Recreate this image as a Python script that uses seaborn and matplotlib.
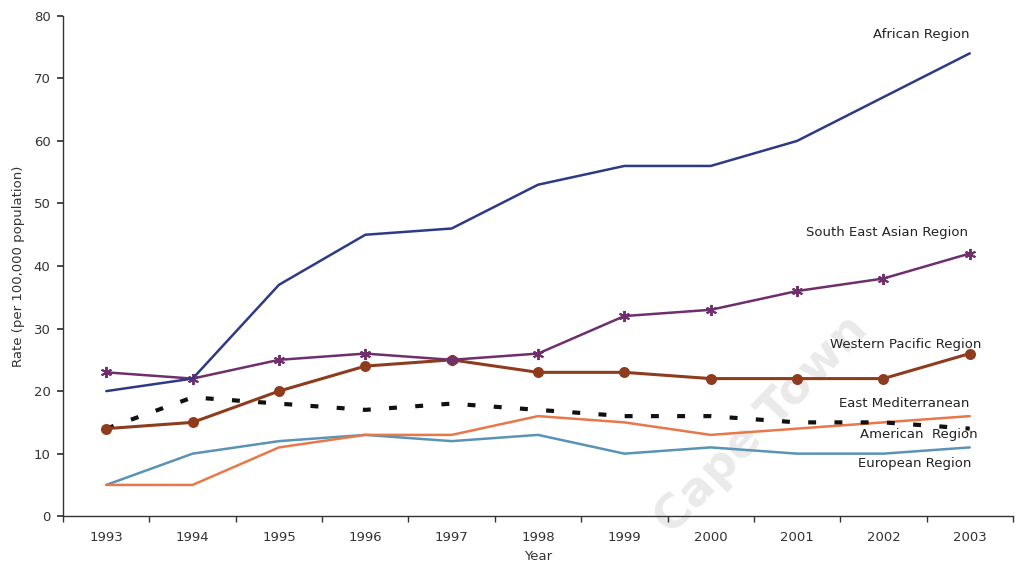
import matplotlib
matplotlib.use("Agg")
import matplotlib.pyplot as plt
import seaborn as sns
import pandas as pd

years = list(range(1993, 2004))

african = [20, 22, 37, 45, 46, 53, 56, 56, 60, 67, 74]
south_east_asian = [23, 22, 25, 26, 25, 26, 32, 33, 36, 38, 42]
western_pacific = [14, 15, 20, 24, 25, 23, 23, 22, 22, 22, 26]
east_mediterranean = [14, 19, 18, 17, 18, 17, 16, 16, 15, 15, 14]
american = [5, 5, 11, 13, 13, 16, 15, 13, 14, 15, 16]
european = [5, 10, 12, 13, 12, 13, 10, 11, 10, 10, 11]

region_names = ["African Region", "South East Asian Region", "Western Pacific Region",
                "East Mediterranean", "American  Region", "European Region"]
y_ticks = [0, 10, 20, 30, 40, 50, 60, 70, 80]

sns.set_theme(style="white")
plt.rcParams["font.family"] = ["DejaVu Sans"]

frames = []
for name, vals in zip(region_names, [african, south_east_asian, western_pacific,
                                     east_mediterranean, american, european]):
    frames.append(pd.DataFrame({"Year": years, "Rate": vals, "Region": name}))
df = pd.concat(frames, ignore_index=True)

styles = {
    "African Region": dict(color="#2E3A86", lw=1.8, marker=None, ms=0, ls="-"),
    "South East Asian Region": dict(color="#6E2F6C", lw=1.8, marker=(6, 2, 0), ms=8, ls="-"),
    "Western Pacific Region": dict(color="#8E3B1E", lw=2.2, marker="o", ms=6.5, ls="-"),
    "East Mediterranean": dict(color="#111111", lw=3.0, marker=None, ms=0, ls=(0, (1.9, 4.4))),
    "American  Region": dict(color="#E8784A", lw=1.8, marker=None, ms=0, ls="-"),
    "European Region": dict(color="#5A93B3", lw=1.8, marker=None, ms=0, ls="-"),
}

fig = plt.figure(figsize=(10.18, 5.66), dpi=100)
ax = fig.add_axes([0.062, 0.088, 0.933, 0.884])
ax.set_facecolor("none")

# faint diagonal watermark behind the chart
fig.text(0.748, 0.25, "Cape Town", fontsize=34, color="#EAEAEA", rotation=46,
         ha="center", va="center", rotation_mode="anchor", fontweight="bold", zorder=-1)

for name in ["European Region", "American  Region", "East Mediterranean",
             "Western Pacific Region", "South East Asian Region", "African Region"]:
    st = styles[name]
    sub = df[df["Region"] == name]
    sns.lineplot(data=sub, x="Year", y="Rate", ax=ax, color=st["color"],
                 linewidth=st["lw"], linestyle=st["ls"], marker=st["marker"],
                 markersize=st["ms"], markeredgewidth=1.4,
                 markeredgecolor=st["color"], legend=False)

ax.set_xlim(1992.5, 2003.5)
ax.set_ylim(0, 80)
ax.set_yticks(y_ticks)
ax.set_xticks(years)
ax.set_xticks([y + 0.5 for y in range(1992, 2004)], minor=True)
ax.tick_params(axis="x", which="major", length=0, pad=11, labelsize=9.5, labelcolor="#333333")
ax.tick_params(axis="x", which="minor", length=4, direction="out", color="#333333", bottom=True)
ax.tick_params(axis="y", length=4, direction="out", color="#333333", left=True,
               labelsize=9.5, labelcolor="#333333", pad=5)

for side in ["top", "right"]:
    ax.spines[side].set_visible(False)
for side in ["left", "bottom"]:
    ax.spines[side].set_color("#333333")
    ax.spines[side].set_linewidth(1.0)

ax.set_xlabel("Year", fontsize=9.5, color="#333333", labelpad=4)
ax.set_ylabel("Rate (per 100,000 population)", fontsize=9.5, color="#333333", labelpad=6)

label_pos = {
    "African Region": (2003.0, 77.0),
    "South East Asian Region": (2002.98, 45.3),
    "Western Pacific Region": (2003.14, 27.4),
    "East Mediterranean": (2003.0, 18.0),
    "American  Region": (2003.09, 13.0),
    "European Region": (2003.02, 8.4),
}
for name, (x, y) in label_pos.items():
    ax.text(x, y, name, ha="right", va="center", fontsize=9.5, color="#222222")

fig.savefig("out.png", dpi=100)
